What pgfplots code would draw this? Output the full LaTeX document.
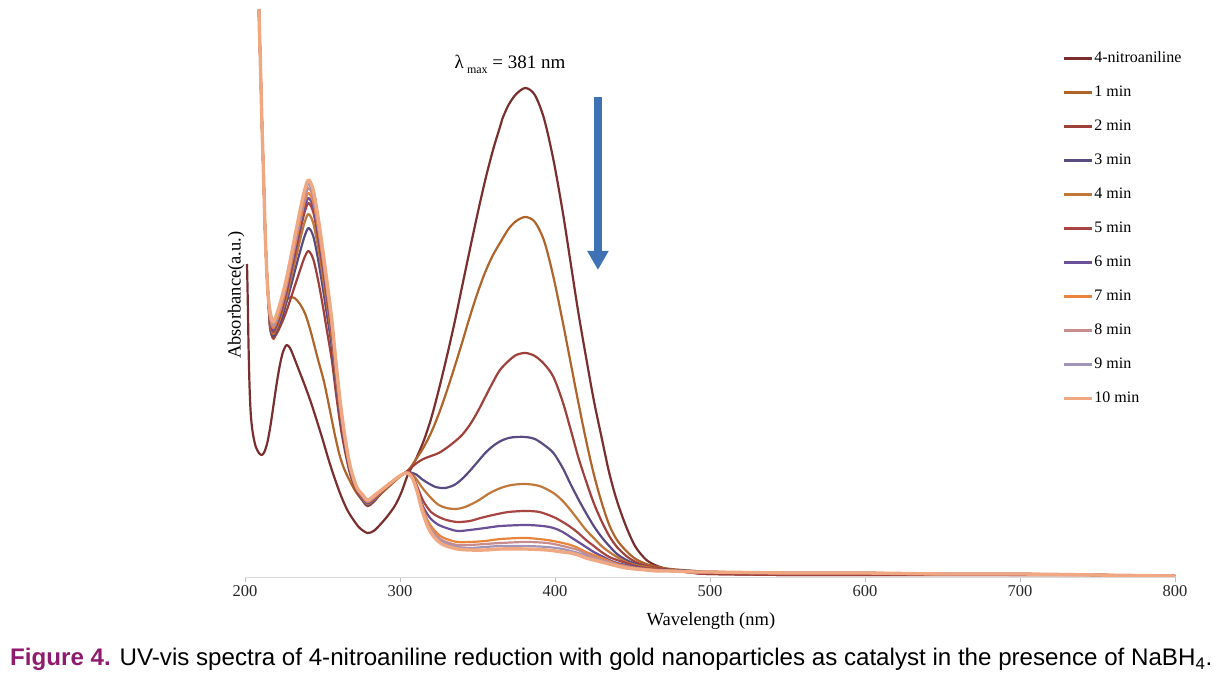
\documentclass[border=0pt]{standalone}
\usepackage{fontspec}
\setmainfont{Liberation Serif}
\newfontfamily\capfont{Liberation Sans}
\usepackage{graphicx}
\usepackage{pgfplots}
\pgfplotsset{compat=1.18}
\usetikzlibrary{arrows.meta}
\definecolor{cN}{HTML}{7A2E2E}
\definecolor{cA}{HTML}{B0642A}
\definecolor{cB}{HTML}{A0403A}
\definecolor{cC}{HTML}{5A4A82}
\definecolor{cD}{HTML}{C0783A}
\definecolor{cE}{HTML}{A84442}
\definecolor{cF}{HTML}{6A5098}
\definecolor{cG}{HTML}{E8843C}
\definecolor{cH}{HTML}{C88C8C}
\definecolor{cI}{HTML}{A094B8}
\definecolor{cJ}{HTML}{F0A882}
\definecolor{arrowblue}{HTML}{3F72B5}
\definecolor{figcol}{HTML}{8E1B6E}
\begin{document}
\begin{tikzpicture}
\useasboundingbox (0pt,0pt) rectangle (1224pt,674pt);
\begin{axis}[
  at={(245pt,97pt)}, anchor=south west,
  scale only axis, width=930pt, height=567pt,
  xmin=200, xmax=800, ymin=0, ymax=5.67,
  axis lines*=left,
  y axis line style={draw=none},
  x axis line style={draw=black!15, line width=0.8pt},
  ytick=\empty,
  xtick={200,300,400,500,600,700,800},
  xtick style={draw=black!25, line width=0.8pt},
  tick align=outside, major tick length=5pt,
  /pgf/number format/assume math mode=true,
  xticklabel style={font=\fontsize{16.5}{18}\selectfont, text=black!85},
  xlabel={Wavelength (nm)},
  xlabel style={at={(axis description cs:0.501,0)}, anchor=center, yshift=-44pt, font=\fontsize{18.5}{20}\selectfont},
  ylabel={Absorbance(a.u.)},
  ylabel style={at={(axis description cs:-0.0095,0.497)}, anchor=center, font=\fontsize{18.5}{20}\selectfont},
  legend style={at={(axis description cs:0.879,0.928)}, anchor=north west, draw=none, fill=none,
    inner sep=0pt, outer sep=0pt, font=\fontsize{16}{18}\selectfont, row sep=19pt, column sep=1pt,
    nodes={inner sep=0.5pt, text height=11pt, text depth=3pt}},
  legend cell align=left,
  legend image code/.code={\draw[#1, line width=2.4pt] (0pt,0pt) -- (28pt,0pt);},
  every axis plot/.append style={smooth, tension=0.5, line join=round, line width=2.2pt},
]
% 4-nitroaniline
\addplot[cN] coordinates {(201.3,3.13) (201.8,2.75) (202.3,2.30) (202.9,1.92) (203.6,1.66) (204.5,1.50) (205.6,1.39) (207,1.30) (209,1.24) (210.8,1.22) (212.5,1.25) (214.5,1.35) (216.5,1.52) (218.5,1.73) (220.5,1.94) (222.5,2.12) (224.5,2.25) (226.8,2.32) (229,2.29) (231,2.22) (234,2.10) (238,1.94) (242,1.77) (246,1.58) (250,1.38) (254,1.17) (258,0.98) (262,0.81) (266,0.67) (270,0.57) (274,0.49) (279,0.44) (283,0.46) (287,0.52) (292,0.61) (297,0.72) (301,0.85) (305,1.02) (310,1.17) (315,1.35) (320,1.58) (325,1.87) (330,2.19) (335,2.53) (340,2.90) (345,3.27) (350,3.63) (355,3.97) (360,4.27) (364.5,4.50) (366,4.58) (370,4.72) (375,4.83) (381,4.89) (387,4.82) (393,4.58) (399,4.17) (405,3.65) (410,3.15) (415,2.65) (420,2.20) (425,1.77) (430,1.40) (435,1.04) (440,0.76) (446,0.50) (452,0.30) (459,0.17) (466,0.11) (475,0.07) (490,0.04) (500,0.03) (550,0.02) (600,0.02) (650,0.02) (700,0.02) (750,0.02) (800,0.01)};
% 1 min
\addplot[cA] coordinates {(208.2,6.5) (209,5.67) (210,5.1) (211,4.5) (212,4.0) (213,3.45) (214,3.07) (215,2.78) (216,2.55) (217,2.43) (218.4,2.38) (220,2.44) (222,2.56) (224,2.67) (226,2.75) (228,2.79) (230,2.80) (232,2.79) (235,2.74) (238,2.66) (240,2.58) (243,2.42) (247,2.18) (251,1.95) (255,1.65) (258,1.42) (261,1.22) (264,1.08) (268,0.95) (272,0.84) (276,0.77) (280,0.75) (284,0.78) (289,0.85) (294,0.92) (299,0.99) (303,1.04) (306,1.08) (310,1.17) (315,1.29) (320,1.44) (325,1.63) (330,1.85) (335,2.09) (340,2.34) (345,2.60) (350,2.84) (355,3.05) (360,3.22) (364.5,3.34) (370,3.48) (375,3.56) (381,3.60) (387,3.55) (393,3.36) (399,3.00) (405,2.55) (410,2.15) (415,1.75) (420,1.37) (425,1.03) (430,0.75) (435,0.52) (440,0.37) (446,0.26) (452,0.18) (459,0.13) (466,0.10) (475,0.08) (490,0.06) (500,0.05) (550,0.04) (600,0.04) (650,0.03) (700,0.02) (750,0.02) (800,0.01)};
% 2 min
\addplot[cB] coordinates {(208.2,6.5) (209,5.67) (210,5.1) (211,4.5) (212,4.0) (213,3.45) (214,3.07) (215,2.80) (216,2.51) (217,2.43) (218.4,2.39) (221,2.45) (224,2.55) (227,2.67) (230,2.81) (233,2.95) (236,3.09) (238.5,3.20) (241,3.26) (244,3.18) (247,2.98) (250,2.73) (253,2.45) (256,2.17) (259,1.80) (262,1.47) (265,1.22) (268,1.02) (272,0.86) (275.5,0.77) (279,0.71) (283,0.75) (288,0.84) (293,0.92) (298,0.99) (302,1.03) (305,1.06) (310,1.13) (315,1.18) (320,1.21) (325,1.24) (330,1.29) (335,1.35) (340,1.42) (345,1.52) (350,1.65) (355,1.80) (360,1.95) (364.5,2.07) (370,2.16) (375,2.22) (381,2.24) (387,2.21) (393,2.13) (399,2.00) (405,1.75) (410,1.48) (415,1.20) (420,0.96) (425,0.74) (430,0.56) (435,0.41) (440,0.30) (446,0.21) (452,0.15) (459,0.11) (466,0.09) (475,0.07) (490,0.04) (500,0.03) (550,0.02) (600,0.02) (650,0.02) (700,0.02) (750,0.02) (800,0.01)};
% 3 min
\addplot[cC] coordinates {(208.2,6.5) (209,5.67) (210,5.1) (211,4.5) (212,4.0) (213,3.45) (214,3.07) (215,2.80) (216,2.53) (217,2.45) (218.4,2.41) (221,2.49) (224,2.60) (227,2.76) (230,2.93) (233,3.11) (236,3.28) (238.5,3.41) (241,3.49) (244,3.41) (247,3.19) (250,2.91) (253,2.61) (256,2.30) (259,1.90) (262,1.54) (265,1.26) (268,1.04) (272,0.88) (275.5,0.78) (279,0.72) (283,0.76) (288,0.85) (293,0.92) (298,0.99) (302,1.03) (305,1.05) (308,1.04) (311,1.02) (314,0.98) (318,0.94) (323,0.90) (329,0.89) (335,0.92) (340,0.98) (345,1.06) (350,1.15) (355,1.24) (360,1.31) (365,1.36) (370,1.39) (375,1.40) (381,1.40) (387,1.38) (393,1.32) (399,1.24) (405,1.09) (410,0.93) (415,0.78) (420,0.64) (425,0.51) (430,0.40) (435,0.31) (440,0.23) (446,0.17) (452,0.13) (459,0.10) (466,0.08) (475,0.07) (490,0.06) (500,0.05) (550,0.04) (600,0.04) (650,0.03) (700,0.03) (750,0.02) (800,0.01)};
% 4 min
\addplot[cD] coordinates {(208.2,6.5) (209,5.67) (210,5.1) (211,4.5) (212,4.0) (213,3.45) (214,3.07) (215,2.80) (216,2.55) (217,2.47) (218.4,2.43) (221,2.51) (224,2.65) (227,2.81) (230,3.01) (233,3.20) (236,3.40) (238.5,3.55) (241,3.63) (244,3.54) (247,3.31) (250,3.02) (253,2.71) (256,2.38) (259,1.95) (262,1.58) (265,1.29) (268,1.06) (272,0.88) (275.5,0.79) (279,0.73) (283,0.77) (288,0.85) (293,0.92) (298,0.99) (302,1.03) (305,1.05) (307.5,1.03) (310,0.99) (315,0.88) (320,0.79) (325,0.72) (330,0.69) (336,0.68) (342,0.70) (350,0.76) (358,0.84) (365,0.89) (372,0.92) (381,0.93) (390,0.91) (399,0.84) (405,0.76) (410,0.67) (415,0.57) (420,0.47) (425,0.39) (430,0.31) (435,0.25) (440,0.20) (446,0.15) (452,0.12) (459,0.10) (466,0.08) (475,0.06) (490,0.05) (500,0.05) (550,0.04) (600,0.04) (650,0.03) (700,0.03) (750,0.02) (800,0.01)};
% 5 min
\addplot[cE] coordinates {(208.2,6.5) (209,5.67) (210,5.1) (211,4.5) (212,4.0) (213,3.45) (214,3.07) (215,2.80) (216,2.57) (217,2.49) (218.4,2.45) (221,2.54) (224,2.68) (227,2.86) (230,3.07) (233,3.28) (236,3.49) (238.5,3.65) (241,3.74) (244,3.65) (247,3.41) (250,3.11) (253,2.78) (256,2.44) (259,2.00) (262,1.61) (265,1.31) (268,1.07) (272,0.89) (275.5,0.80) (279,0.74) (283,0.78) (288,0.86) (293,0.93) (298,0.99) (302,1.03) (305,1.05) (308,1.01) (311,0.91) (315,0.76) (320,0.65) (325,0.60) (330,0.57) (337,0.55) (345,0.56) (352,0.59) (360,0.62) (370,0.65) (381,0.66) (390,0.65) (399,0.60) (405,0.55) (410,0.50) (415,0.44) (420,0.37) (425,0.31) (430,0.25) (435,0.20) (440,0.17) (446,0.14) (452,0.11) (459,0.09) (466,0.08) (475,0.06) (490,0.05) (500,0.05) (550,0.04) (600,0.04) (650,0.03) (700,0.03) (750,0.02) (800,0.01)};
% 6 min
\addplot[cF] coordinates {(208.2,6.5) (209,5.67) (210,5.1) (211,4.5) (212,4.0) (213,3.45) (214,3.07) (215,2.80) (216,2.59) (217,2.51) (218.4,2.47) (221,2.56) (224,2.71) (227,2.89) (230,3.10) (233,3.32) (236,3.54) (238.5,3.70) (241,3.79) (244,3.70) (247,3.45) (250,3.15) (253,2.81) (256,2.47) (259,2.02) (262,1.62) (265,1.32) (268,1.08) (272,0.89) (275.5,0.80) (279,0.74) (283,0.78) (288,0.86) (293,0.93) (298,0.99) (302,1.03) (305,1.04) (308,1.00) (311,0.88) (315,0.70) (320,0.58) (325,0.52) (330,0.49) (337,0.46) (345,0.47) (355,0.49) (365,0.51) (381,0.52) (392,0.51) (399,0.49) (405,0.45) (410,0.40) (415,0.35) (420,0.30) (425,0.25) (430,0.21) (435,0.17) (440,0.14) (446,0.12) (452,0.10) (459,0.08) (466,0.07) (475,0.06) (490,0.05) (500,0.05) (550,0.04) (600,0.04) (650,0.03) (700,0.03) (750,0.02) (800,0.01)};
% 7 min
\addplot[cG] coordinates {(208.2,6.5) (209,5.67) (210,5.1) (211,4.5) (212,4.0) (213,3.45) (214,3.07) (215,2.80) (216,2.61) (217,2.53) (218.4,2.49) (221,2.58) (224,2.73) (227,2.92) (230,3.14) (233,3.36) (236,3.58) (238.5,3.75) (241,3.84) (244,3.75) (247,3.50) (250,3.19) (253,2.85) (256,2.50) (259,2.04) (262,1.64) (265,1.33) (268,1.08) (272,0.90) (275.5,0.81) (279,0.75) (283,0.79) (288,0.86) (293,0.93) (298,0.99) (302,1.03) (305,1.04) (308,0.99) (311,0.88) (314,0.72) (318,0.56) (322,0.47) (326,0.41) (330,0.38) (337,0.35) (345,0.35) (355,0.36) (365,0.38) (381,0.39) (395,0.37) (405,0.34) (410,0.32) (415,0.29) (420,0.25) (425,0.22) (430,0.19) (435,0.16) (440,0.13) (446,0.11) (452,0.09) (459,0.08) (466,0.07) (475,0.06) (490,0.05) (500,0.05) (550,0.04) (600,0.04) (650,0.03) (700,0.03) (750,0.02) (800,0.01)};
% 8 min
\addplot[cH] coordinates {(208.2,6.5) (209,5.67) (210,5.1) (211,4.5) (212,4.0) (213,3.45) (214,3.07) (215,2.80) (216,2.63) (217,2.55) (218.4,2.51) (221,2.61) (224,2.76) (227,2.95) (230,3.17) (233,3.40) (236,3.63) (238.5,3.79) (241,3.89) (244,3.80) (247,3.54) (250,3.23) (253,2.88) (256,2.53) (259,2.06) (262,1.65) (265,1.34) (268,1.09) (272,0.90) (275.5,0.82) (279,0.76) (283,0.80) (288,0.87) (293,0.93) (298,0.99) (302,1.03) (305,1.04) (308,0.99) (311,0.87) (314,0.70) (318,0.53) (322,0.44) (326,0.38) (330,0.35) (337,0.32) (345,0.32) (355,0.33) (365,0.34) (381,0.35) (395,0.34) (405,0.31) (410,0.29) (415,0.27) (420,0.23) (425,0.20) (430,0.17) (435,0.15) (440,0.12) (446,0.10) (452,0.09) (459,0.07) (466,0.07) (475,0.06) (490,0.05) (500,0.05) (550,0.04) (600,0.04) (650,0.03) (700,0.03) (750,0.02) (800,0.01)};
% 9 min
\addplot[cI] coordinates {(208.2,6.5) (209,5.67) (210,5.1) (211,4.5) (212,4.0) (213,3.45) (214,3.07) (215,2.80) (216,2.65) (217,2.57) (218.4,2.53) (221,2.63) (224,2.78) (227,2.98) (230,3.20) (233,3.43) (236,3.66) (238.5,3.83) (241,3.93) (244,3.83) (247,3.58) (250,3.26) (253,2.91) (256,2.55) (259,2.08) (262,1.67) (265,1.35) (268,1.09) (272,0.90) (275.5,0.82) (279,0.76) (283,0.80) (288,0.87) (293,0.93) (298,0.99) (302,1.03) (305,1.04) (308,0.99) (311,0.86) (314,0.69) (318,0.51) (322,0.42) (326,0.36) (330,0.33) (337,0.30) (345,0.29) (355,0.30) (365,0.31) (381,0.31) (395,0.30) (405,0.28) (410,0.26) (415,0.24) (420,0.21) (425,0.18) (430,0.16) (435,0.14) (440,0.12) (446,0.10) (452,0.08) (459,0.07) (466,0.06) (475,0.06) (490,0.05) (500,0.05) (550,0.04) (600,0.04) (650,0.03) (700,0.03) (750,0.02) (800,0.01)};
% 10 min
\addplot[cJ, line width=3.4pt] coordinates {(208.2,6.5) (209,5.67) (210,5.1) (211,4.5) (212,4.0) (213,3.45) (214,3.07) (215,2.80) (216,2.67) (217,2.59) (218.4,2.55) (221,2.65) (224,2.81) (227,3.00) (230,3.23) (233,3.47) (236,3.70) (238.5,3.87) (241,3.97) (244,3.87) (247,3.61) (250,3.29) (253,2.94) (256,2.57) (259,2.10) (262,1.68) (265,1.35) (268,1.10) (272,0.90) (275.5,0.83) (279,0.77) (283,0.81) (288,0.87) (293,0.93) (298,0.99) (302,1.03) (305,1.04) (308,0.99) (311,0.86) (314,0.68) (318,0.50) (322,0.40) (326,0.34) (330,0.31) (337,0.28) (345,0.27) (355,0.27) (365,0.28) (381,0.28) (395,0.27) (405,0.25) (410,0.24) (415,0.22) (420,0.19) (425,0.17) (430,0.15) (435,0.13) (440,0.11) (446,0.09) (452,0.08) (459,0.07) (466,0.06) (475,0.06) (490,0.05) (500,0.05) (550,0.04) (600,0.04) (650,0.03) (700,0.03) (750,0.02) (800,0.01)};
\legend{4-nitroaniline, 1 min, 2 min, 3 min, 4 min, 5 min, 6 min, 7 min, 8 min, 9 min, 10 min}
\draw[arrowblue, line width=8pt, -{Triangle[width=20pt,length=19pt]}] (axis cs:427.7,4.80) -- (axis cs:427.7,3.07);
\node[font=\fontsize{19}{22}\selectfont, anchor=base] at (axis cs:371,5.08) {λ\,\raisebox{-0.5ex}{\fontsize{12}{14}\selectfont max} = 381 nm};
\end{axis}
\node[anchor=base west, inner sep=0pt] at (10pt,8pt) {\resizebox{1202pt}{\height}{\capfont\fontsize{24}{28}\selectfont\textbf{\color{figcol}Figure 4.} UV-vis spectra of 4-nitroaniline reduction with gold nanoparticles as catalyst in the presence of NaBH\textsubscript{4}.}};
\end{tikzpicture}
\end{document}
